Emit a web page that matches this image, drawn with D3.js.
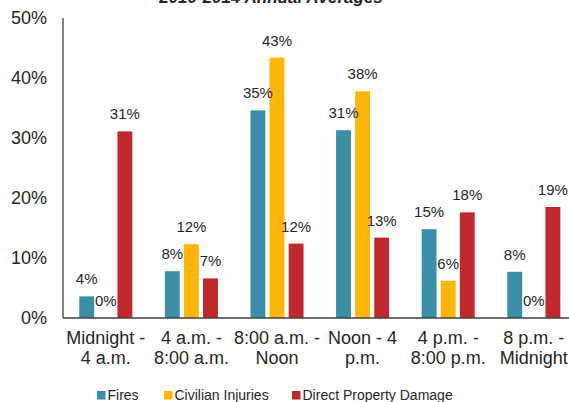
<!DOCTYPE html>
<html lang="en">
<head>
<meta charset="utf-8">
<title>Fires by time of day</title>
<style>
  body { margin: 0; background: #fff; }
  text { font-family: "Liberation Sans", Arial, sans-serif; fill: #262626; }
  .title { font-weight: bold; font-style: italic; font-size: 17px; }
  .ytick { font-size: 18px; }
  .xtick { font-size: 18px; }
  .value { font-size: 15px; }
  .legend { font-size: 14px; }
</style>
<script src="https://cdn.jsdelivr.net/npm/d3@7"></script>
</head>
<body>
<svg width="569" height="402"></svg>
<script>
const categories = [
  ["Midnight -", "4 a.m."],
  ["4 a.m. -", "8:00 a.m."],
  ["8:00 a.m. -", "Noon"],
  ["Noon - 4", "p.m."],
  ["4 p.m. -", "8:00 p.m."],
  ["8 p.m. -", "Midnight"]
];
const seriesNames = ["Fires", "Civilian Injuries", "Direct Property Damage"];
const seriesColors = ["#3a8fa6", "#ffb60b", "#c1282e"];
const fires = [3.6, 7.8, 34.6, 31.3, 14.8, 7.7];
const injuries = [0, 12.3, 43.4, 37.8, 6.2, 0];
const damage = [31.1, 6.6, 12.4, 13.4, 17.6, 18.5];
const valueLabels = [
  ["4%", "8%", "35%", "31%", "15%", "8%"],
  ["0%", "12%", "43%", "38%", "6%", "0%"],
  ["31%", "7%", "12%", "13%", "18%", "19%"]
];
const yTicks = [0, 10, 20, 30, 40, 50];

const series = [fires, injuries, damage];

const svg = d3.select("svg");
const plotLeft = 63, plotTop = 18, plotBottom = 318, band = 85.6;

const x = d3.scaleBand()
  .domain(d3.range(categories.length))
  .range([plotLeft, plotLeft + band * categories.length])
  .paddingInner(0.38).paddingOuter(0.19);

const xs = d3.scaleBand()
  .domain(d3.range(series.length))
  .range([0, x.bandwidth()])
  .paddingInner(0.22);

const y = d3.scaleLinear().domain([0, 50]).range([plotBottom, plotTop]);

// title (cut off at the top edge, as in the source)
svg.append("text").attr("class", "title")
  .attr("x", 271).attr("y", 2.5).attr("text-anchor", "middle")
  .text("2010-2014 Annual Averages");

// y tick labels
svg.append("g").selectAll("text").data(yTicks).join("text")
  .attr("class", "ytick")
  .attr("x", 47).attr("y", d => y(d)).attr("dy", "0.35em")
  .attr("text-anchor", "end")
  .text(d => d + "%");

// bars
const groups = svg.append("g").selectAll("g").data(categories).join("g")
  .attr("transform", (d, i) => `translate(${x(i)},0)`);

groups.selectAll("rect")
  .data((d, i) => series.map((s, k) => ({ k, v: s[i] })))
  .join("rect")
  .attr("x", d => xs(d.k))
  .attr("width", xs.bandwidth())
  .attr("y", d => y(d.v))
  .attr("height", d => plotBottom - y(d.v))
  .attr("fill", d => seriesColors[d.k]);

// value labels on top of everything
groups.selectAll("text.value")
  .data((d, i) => series.map((s, k) => ({ k, v: s[i], t: valueLabels[k][i] })))
  .join("text")
  .attr("class", "value")
  .attr("x", d => xs(d.k) + xs.bandwidth() / 2)
  .attr("y", d => y(d.v) - 12)
  .attr("text-anchor", "middle")
  .text(d => d.t);

// axes lines
svg.append("line").attr("x1", plotLeft).attr("x2", plotLeft).attr("y1", plotTop).attr("y2", plotBottom)
  .attr("stroke", "#404040").attr("stroke-width", 1.3);
svg.append("line").attr("x1", plotLeft).attr("x2", 569).attr("y1", plotBottom).attr("y2", plotBottom)
  .attr("stroke", "#404040").attr("stroke-width", 1.3);

// category labels
const xl = svg.append("g").selectAll("text").data(categories).join("text")
  .attr("class", "xtick")
  .attr("text-anchor", "middle")
  .attr("x", (d, i) => x(i) + x.bandwidth() / 2)
  .attr("y", 344);
xl.selectAll("tspan").data(d => d).join("tspan")
  .attr("x", function () { return this.parentNode.getAttribute("x"); })
  .attr("dy", (d, i) => i ? 19.5 : 0)
  .text(d => d);

// legend
const legendX = [97, 164, 292];
const lg = svg.append("g").selectAll("g").data(seriesNames).join("g")
  .attr("transform", (d, i) => `translate(${legendX[i]},391)`);
lg.append("rect").attr("width", 8.5).attr("height", 8.5)
  .attr("fill", (d, i) => seriesColors[i]);
lg.append("text").attr("class", "legend")
  .attr("x", 10.5).attr("y", 8.5).text(d => d);
</script>
</body>
</html>
